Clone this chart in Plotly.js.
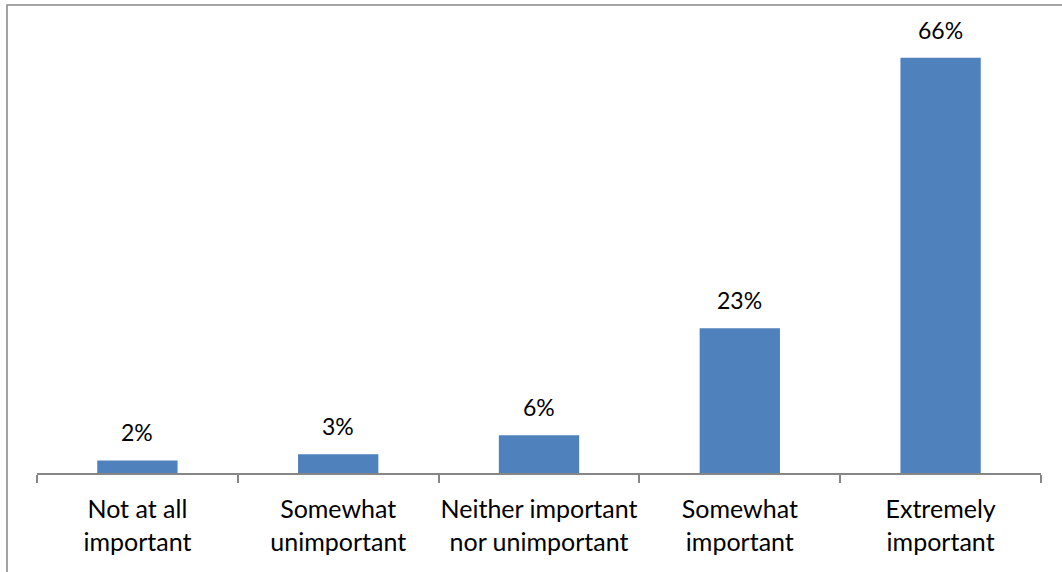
<!DOCTYPE html>
<html>
<head>
<meta charset="utf-8">
<script src="https://cdn.plot.ly/plotly-3.0.1.min.js"></script>
<style>
  html, body { margin: 0; padding: 0; background: #ffffff; }
  #chart { width: 1062px; height: 572px; }
</style>
</head>
<body>
<div id="chart"></div>
<script>
// Survey responses: share of respondents per importance rating
const categories = [
  "Not at all<br>important",
  "Somewhat<br>unimportant",
  "Neither important<br>nor unimportant",
  "Somewhat<br>important",
  "Extremely<br>important"
];
const shares = [2, 3, 6, 23, 66];
const labels = shares.map(v => v + "%");

const FONT = "Lato, Calibri, Carlito, sans-serif";
const BAR_BLUE = "#4F81BD";
const AXIS_GREY = "#868686";

const trace = {
  type: "bar",
  x: categories,
  y: shares,
  marker: { color: BAR_BLUE, line: { width: 0 } },
  hoverinfo: "skip"
};

// value labels sitting above each bar
const valueNotes = categories.map((c, i) => ({
  x: c,
  y: shares[i],
  xref: "x",
  yref: "y",
  text: labels[i],
  showarrow: false,
  yanchor: "bottom",
  yshift: 12,
  font: { family: FONT, size: 23, color: "#000000" }
}));

const layout = {
  width: 1062,
  height: 572,
  margin: { l: 37, r: 21, t: 10, b: 99 },
  paper_bgcolor: "#ffffff",
  plot_bgcolor: "#ffffff",
  showlegend: false,
  bargap: 0.6,
  font: { family: FONT, size: 25, color: "#000000" },
  xaxis: {
    type: "category",
    showline: true,
    linecolor: AXIS_GREY,
    linewidth: 2,
    ticks: "outside",
    tickson: "boundaries",
    ticklen: 8,
    tickwidth: 2,
    tickcolor: AXIS_GREY,
    tickangle: 0,
    showgrid: false,
    zeroline: false,
    automargin: false,
    tickfont: { family: FONT, size: 25, color: "#000000" },
    ticklabelstandoff: 13,
    fixedrange: true
  },
  yaxis: {
    range: [0, 73.6],
    visible: false,
    showgrid: false,
    zeroline: false,
    fixedrange: true
  },
  annotations: valueNotes,
  shapes: [{
    type: "rect",
    xref: "paper",
    yref: "paper",
    x0: -0.0299,
    x1: 1.2,
    y0: -0.4,
    y1: 1.0108,
    line: { color: AXIS_GREY, width: 1.5 },
    fillcolor: "rgba(0,0,0,0)",
    layer: "below"
  }]
};

Plotly.newPlot("chart", [trace], layout, { displayModeBar: false, staticPlot: true });
</script>
</body>
</html>
